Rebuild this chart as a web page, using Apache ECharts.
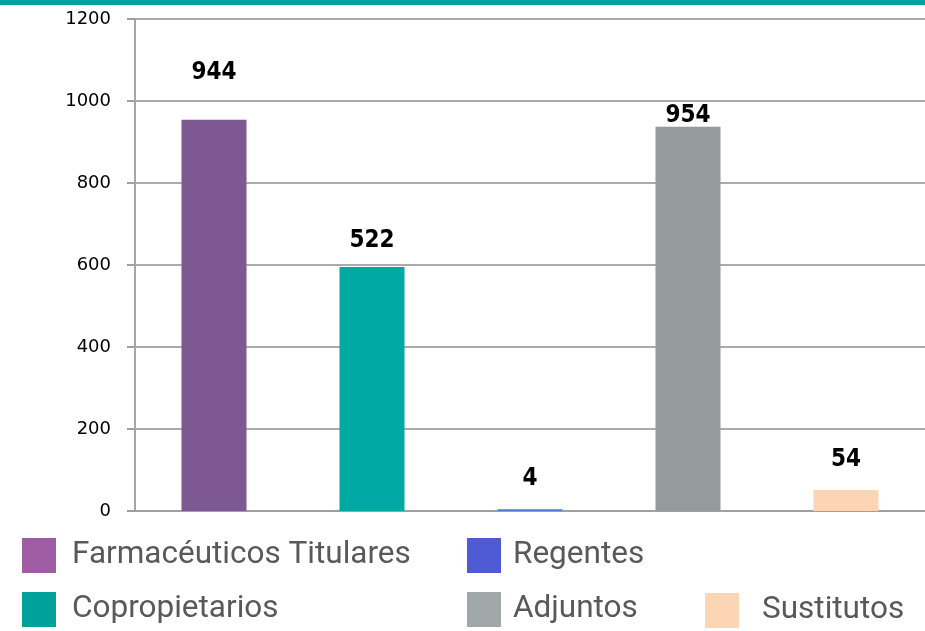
<!DOCTYPE html>
<html>
<head>
<meta charset="utf-8">
<script src="https://cdn.jsdelivr.net/npm/echarts@6/dist/echarts.min.js"></script>
<style>
  html, body { margin: 0; padding: 0; background: #fff; }
  #chartDom { width: 925px; height: 631px; }
</style>
</head>
<body>
<div id="chartDom"></div>
<script>
// datos del gráfico
var categories = ['Farmacéuticos Titulares', 'Copropietarios', 'Regentes', 'Adjuntos', 'Sustitutos'];
var barValues = [954, 595, 4, 937, 51];
var barLabels = ['944', '522', '4', '954', '54'];
var barColors = ['#7e5893', '#00a9a4', '#4a7fcf', '#959a9d', '#fcd5b4'];
var legendColors = ['#a05ca5', '#00a19a', '#4f5bd5', '#a2a7aa', '#fcd5b4'];
var yTicks = [0, 200, 400, 600, 800, 1000, 1200];

var myChart = echarts.init(document.getElementById('chartDom'));

// distancia de cada etiqueta sobre su barra
var labelDist = [35, 14, 19, -1, 18];

var series = categories.map(function (name, i) {
    var data = categories.map(function (c, j) { return j === i ? barValues[i] : '-'; });
    return {
        name: name,
        type: 'bar',
        stack: 'total',
        barWidth: 65,
        data: data,
        itemStyle: { color: barColors[i] },
        label: {
            show: true,
            position: 'top',
            distance: labelDist[i],
            formatter: function () { return barLabels[i]; },
            color: '#000',
            fontFamily: 'DejaVu Sans Condensed',
            fontWeight: 'bold',
            fontSize: 24
        }
    };
});

function legendBox(idx, left, top, gap) {
    return {
        left: left,
        top: top,
        padding: 0,
        icon: 'rect',
        itemWidth: 34,
        itemHeight: 35,
        selectedMode: false,
        textStyle: {
            color: '#595959',
            fontFamily: 'Roboto',
            fontSize: 31.5,
            padding: [5, 0, 0, gap]
        },
        data: [{ name: categories[idx], itemStyle: { color: legendColors[idx] } }]
    };
}

var option = {
    animation: false,
    graphic: [{
        type: 'rect',
        left: 0, top: 0,
        shape: { width: 925, height: 5 },
        style: { fill: '#00a19a' }
    }],
    grid: { left: 135, width: 793, top: 19, bottom: 120, containLabel: false },
    legend: [
        legendBox(0, 22, 538, 11),
        legendBox(2, 467, 538, 7),
        legendBox(1, 22, 592, 11),
        legendBox(3, 467, 592, 7),
        legendBox(4, 705, 593, 18)
    ],
    xAxis: {
        type: 'category',
        data: categories,
        axisLabel: { show: false },
        axisTick: { show: false },
        axisLine: { lineStyle: { color: '#a0a0a0', width: 2 } }
    },
    yAxis: {
        type: 'value',
        min: yTicks[0],
        max: yTicks[yTicks.length - 1],
        interval: 200,
        axisLine: { show: true, lineStyle: { color: '#a6a6a6', width: 2 } },
        axisTick: { show: true, length: 8, lineStyle: { color: '#a0a0a0', width: 2 } },
        axisLabel: {
            margin: 24,
            color: '#000',
            fontFamily: 'DejaVu Sans',
            fontSize: 18,
            formatter: function (v) { return String(v); }
        },
        splitLine: { lineStyle: { color: '#8f8f8f', width: 1.5 } }
    },
    series: series
};

myChart.setOption(option);
</script>
</body>
</html>
